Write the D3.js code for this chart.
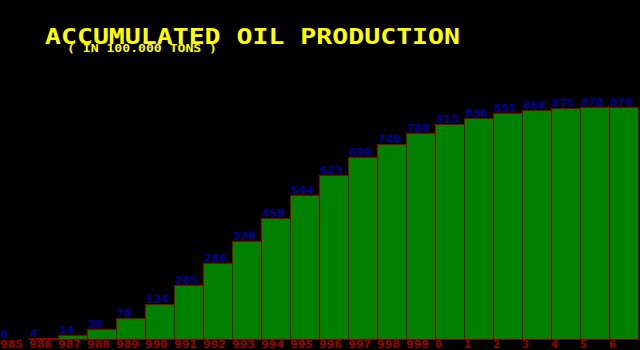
<!DOCTYPE html>
<html>
<head>
<meta charset="utf-8">
<script src="https://cdn.jsdelivr.net/npm/d3@7"></script>
<style>
  body { margin: 0; background: #000; }
  svg { display: block; }
</style>
</head>
<body>
<div id="chart"></div>
<script>
// data
var years = ["985", "986", "987", "988", "989", "990", "991", "992", "993", "994", "995",
             "996", "997", "998", "999", "0", "1", "2", "3", "4", "5", "6"];
var production = [0, 4, 14, 38, 78, 134, 205, 286, 370, 458, 544,
                  623, 690, 740, 780, 813, 836, 855, 868, 875, 878, 879];
var titleText = "ACCUMULATED OIL PRODUCTION";
var subtitleText = "( IN 100.000 TONS )";

function init() {
    var svgWidth = 640;
    var svgHeight = 350;

    var svg = d3.select("#chart")
        .append("svg")
        .attr("width", svgWidth)
        .attr("height", svgHeight)
        .style("background", "#000");

    var xScale = d3.scaleBand()
        .domain(years)
        .range([0, 638])
        .paddingInner(0)
        .paddingOuter(0);

    var yScale = d3.scaleLinear()
        .domain([0, 1000])
        .range([339, 75]);

    // pixel font look: fixed 8px cells, glyphs stretched to fill them
    function cellText(sel, n) {
        return sel.attr("textLength", d => 8 * String(d).length - 1)
            .attr("lengthAdjust", "spacingAndGlyphs");
    }

    // title
    svg.append("text")
        .attr("x", 45)
        .attr("y", 44)
        .attr("textLength", 415)
        .attr("lengthAdjust", "spacingAndGlyphs")
        .attr("font-family", "DejaVu Sans Mono")
        .attr("font-weight", "bold")
        .attr("font-size", "21px")
        .attr("fill", "#ffff00")
        .text(titleText);

    svg.append("text")
        .attr("x", 67)
        .attr("y", 52)
        .attr("textLength", 150)
        .attr("lengthAdjust", "spacingAndGlyphs")
        .attr("font-family", "DejaVu Sans Mono")
        .attr("font-weight", "bold")
        .attr("font-size", "10px")
        .attr("fill", "#ffff00")
        .text(subtitleText);

    // bars
    svg.selectAll("rect.bar")
        .data(production)
        .enter()
        .append("rect")
        .attr("class", "bar")
        .attr("x", (d, i) => Math.round(xScale(years[i])) + 0.5)
        .attr("y", d => Math.round(yScale(d)) + 0.5)
        .attr("width", Math.round(xScale.bandwidth()))
        .attr("height", d => Math.round(yScale(0)) - Math.round(yScale(d)))
        .attr("fill", "#008000")
        .attr("stroke", "#8b0000")
        .attr("stroke-width", 1)
        .attr("shape-rendering", "crispEdges");

    // value labels
    svg.selectAll("text.val")
        .data(production)
        .enter()
        .append("text")
        .attr("class", "val")
        .attr("x", (d, i) => xScale(years[i]) + 1)
        .attr("y", d => Math.round(yScale(d)) - 1)
        .attr("font-family", "DejaVu Sans Mono")
        .attr("font-weight", "bold")
        .attr("font-size", "10px")
        .attr("fill", "#0000a0")
        .text(d => d)
        .call(cellText);

    // year labels
    svg.selectAll("text.year")
        .data(years)
        .enter()
        .append("text")
        .attr("class", "year")
        .attr("x", d => xScale(d))
        .attr("y", 348)
        .attr("font-family", "DejaVu Sans Mono")
        .attr("font-weight", "bold")
        .attr("font-size", "10px")
        .attr("fill", "#a00000")
        .text(d => d)
        .call(cellText);
}
window.addEventListener('load', init, false);
</script>
</body>
</html>
